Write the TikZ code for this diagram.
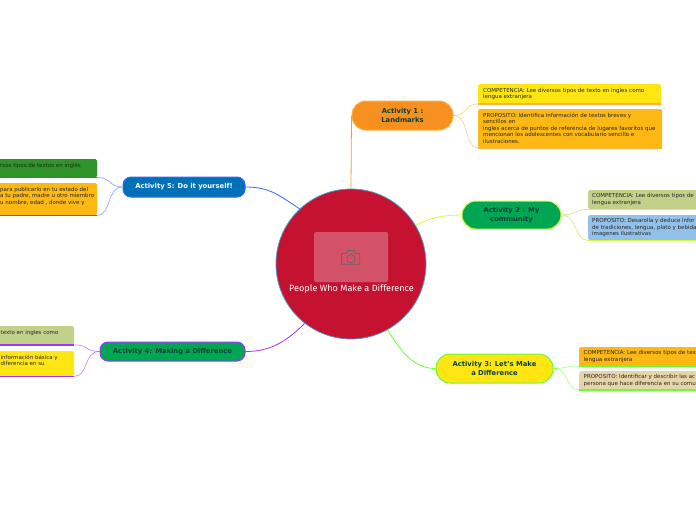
\documentclass[tikz,border=0pt]{standalone}
\usepackage{fontspec}
\setmainfont{DejaVu Sans}
\newfontfamily\hubfont{Fira Sans}
\definecolor{cOrange}{HTML}{F7901E}
\definecolor{cYellow}{HTML}{FFE612}
\definecolor{cAmber}{HTML}{FDB813}
\definecolor{cGreen}{HTML}{00A651}
\definecolor{cOlive}{HTML}{C1D18A}
\definecolor{cSky}{HTML}{92C1E9}
\definecolor{cSand}{HTML}{E6D5A8}
\definecolor{cLeaf}{HTML}{2E9329}
\definecolor{cBlue}{HTML}{0070B8}
\definecolor{cRed}{HTML}{C41230}
\definecolor{lOrange}{HTML}{FBB040}
\definecolor{lLime}{HTML}{CCFF33}
\definecolor{lGreen}{HTML}{66FF33}
\definecolor{lPurple}{HTML}{A033FF}
\definecolor{lBlue}{HTML}{3366FF}
\definecolor{tDark}{HTML}{07403A}
\tikzset{
  pill/.style={draw, line width=1pt, rounded corners=10pt, inner sep=0pt, align=center,
     font=\bfseries\fontsize{6.8}{9.2}\selectfont, text=tDark},
  cb/.style={rounded corners=1.5pt, inner sep=0pt, anchor=north west},
  cbt/.style={anchor=west, inner sep=0pt, align=left, text=black!85, font=\fontsize{5.5}{6.5}\selectfont},
  under/.style={line width=1.3pt},
  main/.style={line width=.8pt},
  sub/.style={line width=.7pt, opacity=.55},
}
% name, x1, y1, x2, y2, fill, line colour, text x, text
\newcommand\cbox[9]{%
  \node[cb, fill=#6, minimum width=#4pt-#2pt, minimum height=#5pt-#3pt] (#1) at (#2,#3) {};
  \draw[under, #7] (#1.south west) -- (#1.south east);
  \node[cbt] (#1t) at (#8,{(#3+#5)/2}) {#9};
}
\begin{document}
\begin{tikzpicture}[x=1pt,y=-1pt]
\useasboundingbox (0,0) rectangle (696,520);
\clip (0,0) rectangle (696,520);
\fill[white] (0,0) rectangle (696,520);

% hub
\node[circle, draw=cBlue!70!white, line width=.8pt, fill=cRed, minimum size=150pt, inner sep=0pt] (hub) at (351,264) {};
\node[rounded corners=2.5pt, fill=white, fill opacity=.27, draw=white, draw opacity=.12, minimum width=74pt, minimum height=50pt, inner sep=0pt] (photo) at (351,257) {};
\node[text=white, inner sep=0pt, font=\hubfont\fontsize{9.1}{10}\selectfont] (hubt) at (351.5,289) {People Who Make a Difference};
% camera icon
\draw[black!60, line width=.7pt, line join=round]
  (341.5,264.3) -- (359.8,264.3) -- (359.8,253.5) -- (355.5,253.5) -- (354.5,250.5) -- (347.5,250.5) -- (346.5,253.5) -- (341.5,253.5) -- cycle;
\draw[black!60, line width=.7pt] (351,258.7) circle (4.2);

% activities
\node[pill, fill=cOrange, draw=lOrange, minimum width=101pt, minimum height=29pt, rounded corners=14pt] (a1) at (402.5,115.5) {Activity 1 :\\Landmarks};
\node[pill, fill=cGreen, draw=lLime, minimum width=99pt, minimum height=28pt, rounded corners=14pt] (a2) at (511.5,215) {Activity 2 : My\\community};
\node[pill, fill=cYellow, draw=lGreen, minimum width=117pt, minimum height=29pt, rounded corners=14pt] (a3) at (494.5,368.5) {Activity 3: Let's Make\\a Difference};
\node[pill, fill=cGreen, draw=lPurple, minimum width=145pt, minimum height=19pt, rounded corners=8pt] (a4) at (172.5,351.5) {Activity 4: Making a Difference};
\node[pill, fill=cBlue, draw=lBlue, text=white, minimum width=122pt, minimum height=20pt, rounded corners=8pt] (a5) at (184,187) {Activity 5: Do it yourself!};

% sub boxes
\cbox{c1a}{478}{84}{661}{103.5}{cYellow}{lOrange}{483}{COMPETENCIA: Lee diversos tipos de texto en ingles como\\lengua extranjera}
\cbox{c1b}{478}{109}{662}{147.5}{cAmber}{lOrange}{483}{PROPOSITO: Identifica información de textos breves y\\sencillos en\\ingles acerca de puntos de referencia de lugares favoritos que\\mencionan los adolescentes con vocabulario sencillo e\\ilustraciones.}
\cbox{c2a}{588}{190}{710}{209}{cOlive}{lLime}{592}{COMPETENCIA: Lee diversos tipos de\\lengua extranjera}
\cbox{c2b}{588}{215}{710}{240}{cSky}{lLime}{592}{PROPOSITO: Desarolla y deduce infor\\de tradiciones, lengua, plato y bebida\\imagenes ilustrativas}
\cbox{c3a}{579}{347}{710}{365.5}{cAmber}{lGreen}{583.5}{COMPETENCIA: Lee diversos tipos de tex\\lengua extranjera}
\cbox{c3b}{579}{371}{710}{389.5}{cSand}{lGreen}{583.5}{PROPOSITO: Identificar y describir las ac\\persona que hace diferencia en su comu}
\cbox{c4a}{-20}{326}{74}{344.5}{cOlive}{lPurple}{0.5}{texto en ingles como\\~}
\cbox{c4b}{-20}{351}{74}{376}{cYellow}{lPurple}{0.5}{información básica y\\diferencia en su\\~}
\node[cb, fill=cLeaf, minimum width=117pt, minimum height=18pt] (c5a) at (-20,159) {};
\draw[under, lBlue] (c5a.south west) -- (c5a.south east);
\node[cbt] (c5at) at (0,165.5) {rsos tipos de textos en inglés};
\cbox{c5b}{-20}{183}{97}{215}{cAmber}{lBlue}{0}{ para publicarlo en tu estado del\\a tu padre, madre u otro miembro\\u nombre, edad , donde vive y\\~}

% main connectors
\draw[main, lOrange!60!orange] (hub.north) -- (a1.west);
\draw[main, lLime] (hub.31) .. controls +(15,-8) and +(-15,0) .. (a2.west);
\draw[main, lGreen] (hub.-61) .. controls +(14,22) and +(-22,0) .. (a3.west);
\draw[main, lPurple] (hub.232) .. controls +(-18,18) and +(25,0) .. (a4.east);
\draw[main, lBlue] (hub.133) .. controls +(-20,-13) and +(25,0) .. (a5.east);

% sub connectors
\draw[sub, lOrange] (a1.east) .. controls +(14,0) and +(-14,0) .. (c1a.south west);
\draw[sub, lOrange] (a1.east) .. controls +(16,0) and +(-14,0) .. (c1b.south west);
\draw[sub, lLime!85!black] (a2.east) .. controls +(14,0) and +(-14,0) .. (c2a.south west);
\draw[sub, lLime!85!black] (a2.east) .. controls +(16,0) and +(-14,0) .. (c2b.south west);
\draw[sub, lGreen] (a3.east) .. controls +(14,0) and +(-14,0) .. (c3a.south west);
\draw[sub, lGreen] (a3.east) .. controls +(16,0) and +(-14,0) .. (c3b.south west);
\draw[sub, lPurple] (a4.west) .. controls +(-14,0) and +(14,0) .. (c4a.south east);
\draw[sub, lPurple] (a4.west) .. controls +(-16,0) and +(14,0) .. (c4b.south east);
\draw[sub, lBlue] (a5.west) .. controls +(-14,0) and +(14,0) .. (c5a.south east);
\draw[sub, lBlue] (a5.west) .. controls +(-16,0) and +(14,0) .. (c5b.south east);
\end{tikzpicture}
\end{document}
